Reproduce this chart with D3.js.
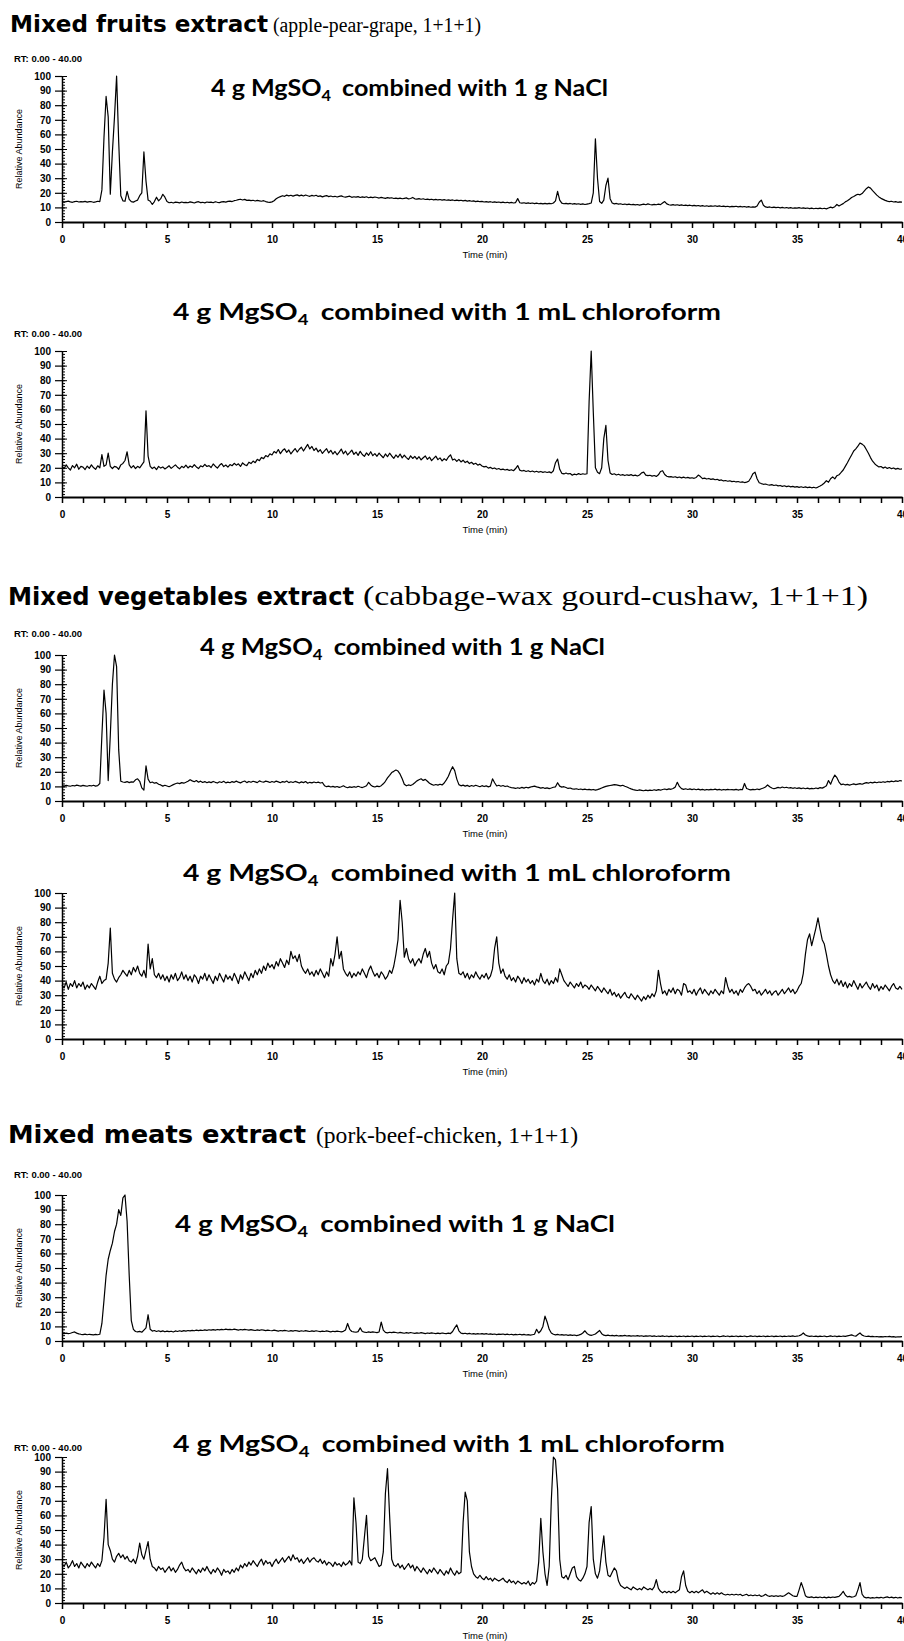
<!DOCTYPE html>
<html>
<head>
<meta charset="utf-8">
<script src="https://d3js.org/d3.v7.min.js"></script>
<style>
  body { margin: 0; background: #fff; }
  svg { display: block; }
</style>
</head>
<body>
<svg id="chart"></svg>
<script>
// readings are one every 0.1 min, from 0 to 40 min
var timeStep = 0.1;
var xTickLabels = [0, 5, 10, 15, 20, 25, 30, 35, 40];
var yTickLabels = [0, 10, 20, 30, 40, 50, 60, 70, 80, 90, 100];

var fruitsNaCl = [
  14.1,13.6,14.0,14.3,13.8,13.5,14.0,14.2,13.7,13.9,
  13.8,14.1,13.6,14.0,13.9,13.5,13.8,14.2,14.0,22,
  58,86,72,19,48,72,100,55,18,14.5,
  14.2,21,15.5,14.0,13.6,14.4,15.0,18,20,48,
  28,15,14.2,12.0,14.0,17,14.5,16,19,17,
  14.0,13.2,13.5,13.0,13.6,13.4,13.1,13.7,13.3,13.5,
  13.2,13.8,13.4,13.0,13.6,13.9,13.3,13.5,13.1,13.7,
  13.4,13.6,13.2,13.9,13.5,13.3,13.8,14.0,13.6,14.1,
  14.3,14.0,14.6,14.9,15.3,15.6,15.1,15.5,14.8,15.0,
  14.6,14.9,14.4,14.8,14.5,14.2,14.6,14.0,13.6,13.4,
  13.8,14.6,15.9,16.8,17.4,18.0,17.6,18.4,17.9,18.3,
  17.7,18.2,18.6,17.9,18.4,17.8,18.5,18.0,17.6,18.2,
  17.8,18.3,17.5,17.9,17.2,17.7,18.1,17.4,17.8,17.3,
  17.6,17.1,17.5,17.9,17.3,17.0,17.4,17.7,16.9,17.3,
  17.0,17.4,16.8,17.2,16.9,17.3,16.6,17.0,16.7,17.1,
  16.8,16.4,16.9,16.5,16.2,16.7,16.3,16.6,16.1,16.4,
  16.0,16.3,15.9,16.2,16.5,15.8,16.1,16.8,15.9,15.7,
  16.0,15.6,15.9,15.4,15.7,15.3,15.6,15.2,15.5,15.1,
  15.4,15.0,15.3,14.9,15.2,14.8,15.1,14.7,15.0,14.6,
  14.9,14.5,14.8,14.3,14.6,14.2,14.5,14.0,14.3,13.9,
  14.1,13.7,14.0,13.6,13.9,13.5,13.8,13.4,13.7,13.3,
  13.6,13.2,13.5,13.1,13.4,13.0,13.3,16.0,13.2,12.9,
  13.2,12.8,13.1,12.7,13.0,12.6,12.9,12.5,12.8,12.4,
  12.7,12.4,12.8,12.5,13.0,14.5,21,15,12.9,12.5,
  12.8,12.4,12.7,12.3,12.6,12.2,12.5,12.1,12.4,12.0,
  12.3,12.6,13.0,20,57,30,14,12.8,15,25,
  30,16,13,12.4,12.7,12.2,12.5,12.0,12.3,11.9,
  12.2,11.8,12.1,11.7,12.0,11.6,11.9,12.2,11.8,12.4,
  12.0,11.7,12.1,11.8,12.2,11.9,13.0,14,12.4,11.8,
  11.6,11.9,11.5,11.8,11.4,11.7,11.3,11.6,11.2,11.5,
  11.1,11.4,11.0,11.3,10.9,11.2,10.8,11.1,10.7,11.0,
  10.8,11.1,10.7,11.0,10.6,10.9,10.5,10.8,10.4,10.7,
  10.5,10.8,10.4,10.7,10.3,10.6,10.2,10.5,10.1,10.4,
  10.2,11.0,13.5,15,11.5,10.3,10.0,10.3,9.9,10.2,
  9.8,10.1,9.7,10.0,9.6,9.9,9.5,9.8,9.4,9.7,
  9.5,9.8,9.4,9.7,9.3,9.6,9.2,9.5,9.1,9.4,
  9.2,9.5,9.1,9.4,9.0,9.6,10.2,9.7,10.5,12,
  11.0,11.8,12.6,13.8,14.5,15.6,16.8,17.5,18.4,19.0,
  18.6,19.5,21.2,22.8,24.0,23.2,21.5,20.0,18.4,17.2,
  16.2,15.5,14.8,14.3,13.9,14.2,13.7,14.0,13.5,13.8,
  13.6
];

var fruitsChloroform = [
  21,19.5,22,20,18.5,21.5,20,22.5,19,21,
  20.5,18.8,21.2,19.6,22,20.2,18.9,21.4,20,29,
  21,22,30,21,19.5,21,20.5,19,22,23,
  25,31,22,20,21.5,19.5,21,20,22,24,
  59,28,21,19.5,20.5,18.8,21,19.8,20.6,19.2,
  20.2,21.4,19.6,20.8,22,20.4,19.3,21,20.1,21.8,
  19.9,21.2,20.3,22.1,20.6,19.5,21.3,20.7,22.4,20.9,
  21.5,20.2,22.6,21.1,19.8,21.7,22.9,20.8,21.9,20.5,
  22.2,21.4,23.1,21.8,22.7,20.9,23.4,22.1,21.5,23.8,
  22.9,24.6,23.5,25.8,24.9,27.1,26.3,28.4,27.5,29.6,
  28.8,31.2,30.1,32.5,29.7,31.8,33.0,30.6,32.2,29.5,
  31.4,33.2,30.8,32.7,34.1,31.5,33.8,36.0,32.9,34.6,
  31.8,33.5,30.9,32.4,29.8,31.6,33.1,30.2,32.0,29.4,
  31.2,28.9,30.7,32.8,29.6,31.5,28.8,30.4,32.1,29.2,
  30.8,28.5,31.3,29.1,27.8,30.2,28.6,31.0,28.3,29.7,
  27.9,30.1,28.4,26.9,29.5,27.6,30.0,28.1,26.5,28.8,
  27.2,29.4,26.8,28.6,27.0,25.7,28.2,26.4,27.8,25.9,
  27.6,25.4,26.9,28.1,25.8,27.3,24.9,26.5,28.0,25.6,
  26.8,24.7,26.2,25.1,27.4,28.9,25.3,26.0,24.4,25.8,
  24.0,25.2,23.6,24.5,22.9,23.8,22.4,23.1,21.8,22.5,
  21.2,20.6,21.0,19.8,20.3,19.4,19.9,19.0,19.5,18.7,
  19.1,18.5,18.9,18.2,18.7,18.0,19.5,21.5,18.4,17.8,
  18.2,17.5,18.0,17.3,17.8,17.1,17.6,17.0,17.5,16.9,
  17.3,16.8,17.2,16.5,18.0,23.5,26,19,16.2,15.8,
  16.4,15.8,16.1,14.9,15.7,15.2,16.0,15.4,15.9,15.6,
  15.9,65,100,58,20,17,16,20,40,49,
  25,16.5,15.4,15.9,15.1,15.6,14.9,15.3,14.7,15.2,
  14.8,15.3,14.6,15.0,14.4,15.1,16.5,17,15.0,14.6,
  14.9,14.3,14.7,14.1,15.2,17.5,18,15.4,14.2,13.8,
  14.0,13.5,13.9,13.3,13.7,13.1,13.6,13.0,13.4,12.9,
  13.2,12.8,13.4,15,14,12.6,12.9,12.3,12.7,12.1,
  12.4,11.8,12.1,11.4,11.7,11.0,11.3,10.8,11.1,10.5,
  10.8,10.3,10.6,10.1,10.4,9.9,10.2,10.8,13,16,
  17,12.5,9.8,9.2,8.7,8.9,8.4,8.1,8.5,7.9,
  8.2,7.6,7.9,7.3,7.7,7.1,7.5,6.9,7.3,6.8,
  7.1,6.6,7.0,6.5,6.9,6.4,6.8,6.3,6.7,6.2,
  6.8,7.5,8.4,9.6,11.2,10.1,12.5,13.8,12.4,14.6,
  15.2,16.8,18.5,21.0,23.5,26.2,28.8,31.5,33.0,34.8,
  37.0,36.2,35.0,32.5,30.0,27.0,24.5,22.8,21.5,20.6,
  20.9,19.8,20.5,19.6,20.2,19.4,19.9,19.1,19.6,19.0,
  19.3
];

var vegNaCl = [
  10.5,10.2,10.8,10.4,10.1,10.6,10.3,10.9,10.5,10.2,
  10.7,10.4,10.1,10.6,10.3,10.8,10.2,10.5,12,45,
  76,60,14,45,80,100,92,35,13.5,13,
  12.8,13.3,12.6,13.1,12.9,14.5,15.2,13.5,9,7.5,
  24,15,12.5,13,12.2,12.6,11.5,11,10.2,10.8,
  10.3,9.8,10.5,11.2,11.8,12.3,11.9,12.6,12.2,12.8,
  13.5,14.6,13.8,13.2,14.0,12.9,13.6,12.7,13.3,12.5,
  13.1,12.6,13.4,12.8,12.3,13.2,12.7,13.5,12.4,12.9,
  12.5,13.3,12.8,13.6,12.9,12.4,13.2,13.7,12.6,13.4,
  12.8,13.5,13.1,12.6,13.8,13.2,12.9,13.6,13.3,12.7,
  13.4,12.8,13.6,13.1,12.5,13.3,12.9,13.7,12.6,13.2,
  12.7,13.4,12.9,12.3,13.1,12.6,13.3,12.2,12.8,12.4,
  13.0,12.5,12.9,12.3,12.7,10.5,9.8,10.2,9.6,10.0,
  9.5,9.9,9.3,9.8,10.4,9.6,9.1,9.7,9.3,9.8,
  9.4,10.1,9.6,9.2,9.8,10.4,12.8,11.0,10.0,9.6,
  10.2,9.8,10.5,11.8,13.5,15.8,17.6,19.5,20.3,21.2,
  20.5,18.4,15.2,11.5,10.4,11.0,10.6,11.3,12.5,13.8,
  14.6,15.2,14.1,14.8,13.5,12.2,11.4,10.8,11.3,10.9,
  11.5,11.0,12.3,14.5,17.0,20.5,23.5,20.8,15.0,11.2,
  10.4,10.9,10.2,10.7,9.9,10.6,10.1,10.8,10.3,9.8,
  10.5,9.9,10.4,9.7,10.2,15.2,12.5,10.3,10.8,10.1,
  10.6,9.9,10.3,9.6,9.2,9.0,8.6,9.1,8.7,9.3,
  8.8,9.4,9.0,9.5,9.9,10.2,9.7,9.3,8.8,9.2,
  8.6,9.0,8.5,8.9,9.4,9.7,12.5,10.2,9.5,9.8,
  9.2,8.6,8.9,8.3,8.1,8.4,7.9,8.2,7.8,8.1,
  7.7,8.0,7.6,7.9,7.5,7.8,8.3,8.9,9.5,10.0,
  10.3,10.6,10.9,11.2,11.0,10.7,10.4,10.8,10.1,9.6,
  8.9,8.3,7.8,7.5,7.2,7.6,7.3,7.0,7.4,7.1,
  7.5,7.2,7.7,7.3,7.8,7.4,7.9,8.2,7.8,8.3,
  8.0,8.6,9.5,12.8,10.0,8.5,8.0,8.4,7.9,8.3,
  7.8,8.2,7.7,8.1,7.6,8.0,7.5,7.9,7.6,8.0,
  7.7,8.1,7.6,8.0,7.5,7.9,7.6,8.0,7.7,7.8,
  7.6,8.0,7.5,7.9,7.7,12.0,8.6,8.0,7.6,8.0,
  7.7,8.2,7.8,8.4,8.9,9.6,11.0,9.8,8.9,8.4,
  8.8,9.3,8.9,9.6,9.1,9.4,8.9,9.2,8.7,9.1,
  8.6,9.0,8.5,8.9,8.4,8.8,8.3,8.7,8.4,8.9,
  8.5,9.2,8.8,9.5,10.5,14.0,11.5,15.0,17.8,16.0,
  13.0,11.2,11.6,11.0,11.4,10.9,11.3,11.7,11.2,11.6,
  11.9,11.5,12.1,12.6,12.2,12.8,12.4,12.9,12.5,13.0,
  12.7,13.2,12.8,13.4,13.1,13.6,13.2,13.8,13.4,14.0,
  13.7
];

var vegChloroform = [
  37,35,39,34,38,36,40,35,38,36,
  39,34,37,35,38,36,34,39,43,38,
  40,41,52,76,45,41,39,42,44,47,
  45,43,47,44,49,46,50,45,43,47,
  42,65,48,55,44,42,45,41,44,40,
  43,39,44,41,45,40,42,46,41,44,
  40,43,39,44,42,38,43,41,45,40,
  44,41,38,43,40,45,42,39,44,41,
  43,40,45,42,38,44,41,46,43,40,
  45,42,47,44,48,45,50,47,52,49,
  51,48,53,50,55,52,49,54,51,60,
  55,57,53,58,50,47,45,48,44,46,
  43,47,44,48,45,42,46,43,55,50,
  58,70,55,60,48,45,43,46,42,45,
  43,46,44,48,45,42,47,50,46,43,
  45,42,46,44,41,43,47,45,50,58,
  68,95,80,56,62,55,52,55,50,53,
  55,52,58,62,56,60,52,48,51,46,
  45,48,44,50,52,62,82,100,55,45,
  44,46,42,45,41,44,42,46,43,41,
  44,42,45,41,43,48,62,70,52,45,
  48,43,41,44,40,42,39,43,41,38,
  42,39,41,38,40,37,41,39,45,40,
  38,41,37,40,38,42,39,48,44,40,
  38,36,39,37,35,38,36,39,35,37,
  36,34,37,35,33,36,34,32,35,33,
  31,34,30,32,29,31,28,30,32,29,
  28,31,29,27,30,28,26,29,27,30,
  28,31,29,33,47,38,31,33,30,34,
  32,35,31,34,33,30,38,37,32,33,
  31,34,30,33,35,31,34,32,30,33,
  31,34,32,30,33,31,42,36,32,34,
  31,33,30,34,32,35,37,38,36,33,
  34,31,33,30,32,34,31,33,30,32,
  33,30,32,34,31,33,35,32,34,31,
  33,36,38,45,58,68,72,64,70,76,
  83,75,68,65,58,50,44,40,38,41,
  37,40,36,39,35,38,36,40,37,34,
  38,35,37,39,36,34,38,35,37,33,
  36,34,37,35,33,36,38,35,34,36,
  34
];

var meatNaCl = [
  5.2,5.0,5.4,5.1,5.3,5.8,6.2,5.4,4.9,4.6,
  4.4,4.7,4.3,4.6,4.4,4.2,4.5,4.3,4.6,12,
  28,45,56,62,67,75,80,90,86,98,
  100,82,45,14,8,6.5,6.2,6.6,6.0,7.5,
  9,18,8,6.8,7.2,6.5,7.0,6.4,6.9,6.3,
  6.8,6.4,6.7,6.2,6.9,6.5,7.0,6.6,7.1,6.8,
  7.2,6.9,7.3,7.0,7.4,7.1,7.5,7.2,7.6,7.3,
  7.7,7.4,7.8,7.5,7.9,7.6,8.0,7.7,8.1,7.8,
  8.0,7.7,8.1,7.8,7.5,7.9,7.6,8.0,7.7,7.4,
  7.8,7.5,7.2,7.6,7.3,7.7,7.4,7.1,7.5,7.2,
  7.0,7.4,7.1,6.8,7.2,6.9,7.3,7.0,6.7,7.1,
  6.8,7.2,6.9,6.6,7.0,6.7,7.1,6.8,6.5,6.9,
  6.6,7.0,6.7,6.4,6.8,6.5,6.9,6.6,6.3,6.7,
  6.4,6.8,6.5,6.2,6.6,7.5,12,8,6.5,6.2,
  6.0,6.4,9,6.5,6.1,5.8,6.2,5.9,6.3,6.0,
  5.7,6.2,13,7.5,5.9,5.6,6.0,5.7,6.1,5.8,
  5.5,5.9,5.6,5.3,5.7,5.4,5.8,5.5,5.2,5.6,
  5.3,5.7,5.4,5.1,5.5,5.2,5.6,5.3,5.0,5.4,
  5.1,5.5,5.2,5.0,5.4,5.1,6.5,9,11,7,
  5.4,5.0,5.3,4.9,5.2,4.8,5.1,4.7,5.0,4.8,
  5.1,4.7,5.0,4.6,4.9,4.5,4.8,4.4,4.7,4.5,
  4.8,4.4,4.7,4.3,4.6,4.2,4.5,4.3,4.6,4.2,
  4.5,4.1,4.4,4.0,4.3,4.6,8,5.5,7,10,
  17,13,8,5.5,4.6,4.2,4.5,4.1,4.4,4.0,
  4.3,3.9,4.2,3.8,4.1,3.7,4.0,4.5,5.5,7,
  5.2,4.2,3.9,4.3,4.8,6,7.2,5,4.0,3.7,
  4.0,3.6,3.9,3.5,3.8,3.4,3.7,3.5,3.8,3.4,
  3.7,3.3,3.6,3.4,3.7,3.3,3.6,3.2,3.5,3.3,
  3.6,3.2,3.5,3.1,3.4,3.2,3.5,3.1,3.4,3.0,
  3.3,3.1,3.4,3.0,3.3,3.1,3.4,3.0,3.3,3.1,
  3.4,3.0,3.3,3.1,3.4,3.0,3.3,3.1,3.4,3.0,
  3.3,3.1,3.4,3.0,3.2,3.5,3.1,3.4,3.0,3.3,
  3.1,3.4,3.0,3.3,3.1,3.4,3.0,3.2,3.5,3.1,
  3.4,3.0,3.3,3.1,3.4,3.0,3.3,3.1,3.4,3.0,
  3.3,3.1,3.4,3.0,3.3,3.1,3.4,3.2,3.5,3.1,
  3.4,3.6,4.2,5.5,4.1,3.5,3.2,3.4,3.1,3.3,
  3.0,3.3,3.1,3.4,3.0,3.2,3.5,3.1,3.4,3.0,
  3.3,3.1,3.4,3.2,3.5,3.8,4.2,3.6,3.3,4.5,
  5.5,4.0,3.4,3.1,3.3,3.0,3.2,2.9,3.1,2.8,
  3.0,2.8,3.1,2.9,3.2,2.8,3.0,2.7,2.9,2.8,
  3.0
];

var meatChloroform = [
  27,25,28,24,26,29,25,27,24,28,
  26,24,27,25,28,26,24,27,25,29,
  45,71,40,36,30,28,32,34,31,33,
  30,32,29,28,30,27,32,41,33,30,
  36,42,30,25,24,22,25,23,24,21,
  23,25,22,24,21,23,26,28,24,22,
  23,21,24,22,20,23,21,24,22,25,
  22,20,23,21,24,22,19,23,21,22,
  20,23,21,24,22,26,24,27,25,28,
  26,29,27,25,28,30,26,29,27,28,
  25,28,30,27,29,31,28,30,32,29,
  33,30,31,28,30,27,29,31,28,30,
  31,29,28,30,27,29,26,28,27,25,
  28,26,27,25,28,26,27,29,26,72,
  55,28,27,30,45,60,32,29,30,31,
  28,25,26,35,75,92,60,30,26,25,
  27,24,26,23,25,27,24,26,22,25,
  23,21,24,22,20,23,21,24,22,20,
  23,21,19,22,20,24,21,19,22,20,
  21,55,76,70,35,25,20,18,17,19,
  17,16,18,16,17,15,17,16,15,16,
  17,15,14,16,14,15,13,15,14,13,
  14,13,15,12,14,13,15,28,58,35,
  20,12,25,70,100,98,78,30,18,17,
  19,16,20,24,25,18,16,15,17,20,
  25,55,66,30,20,17,22,35,46,28,
  19,18,21,24,22,15,12,11,10,11,
  10,9,11,10,9,10,9,11,10,9,
  10,9,11,16,10,8,7,8,7,8,
  7,8,7,8,9,18,22,12,8,7,
  8,7,8,7,8,9,7,8,7,6,
  7,6,7,6,7,6,5.5,6,5.5,6,
  5.5,6,5.5,6,5,5.5,6,5,5.5,5,
  5.5,5,5.5,4.5,5,6,5,4.5,5,4.5,
  5,4.5,5,4.5,5,6,7,6,5,4.5,
  4.5,9,14,10,5,4,3.8,4.2,3.6,4,
  3.7,4.1,3.6,4,3.5,4,3.7,4.1,3.8,4.2,
  4.5,6,8,5.5,4.2,4.5,4,4.3,5,9,
  14,6,4,3.5,3.8,3.3,3.7,3.4,3.8,3.5,
  3.9,3.4,3.8,4.2,3.6,4,3.5,3.9,3.4,3.8,
  3.6
];

var titles = [
  { bold: "Mixed fruits extract", rest: "(apple-pear-grape, 1+1+1)" },
  { bold: "Mixed vegetables extract", rest: "(cabbage-wax gourd-cushaw, 1+1+1)" },
  { bold: "Mixed meats extract", rest: "(pork-beef-chicken, 1+1+1)" }
];

// where each title sits: baseline, and the span of its two parts
var titleLayout = [
  { y: 32, boldX: 10, boldW: 258, boldSize: 23, restX: 273, restW: 208, restSize: 20.5 },
  { y: 605, boldX: 8, boldW: 346, boldSize: 24, restX: 363, restW: 505, restSize: 27 },
  { y: 1143, boldX: 8, boldW: 298, boldSize: 24, restX: 316, restW: 262, restSize: 23 }
];

// layout of each chromatogram: base = y of the 0 line, rt = y of the "RT" label
var panels = [
  { series: fruitsNaCl, base: 222, rt: 58, tail: "1 g NaCl", subX: 211, subY: 96, subW: 397 },
  { series: fruitsChloroform, base: 497, rt: 333, tail: "1 mL chloroform", subX: 173, subY: 320, subW: 548 },
  { series: vegNaCl, base: 801, rt: 633, tail: "1 g NaCl", subX: 200, subY: 655, subW: 405 },
  { series: vegChloroform, base: 1039, rt: null, tail: "1 mL chloroform", subX: 183, subY: 881, subW: 548 },
  { series: meatNaCl, base: 1341, rt: 1174, tail: "1 g NaCl", subX: 175, subY: 1232, subW: 440 },
  { series: meatChloroform, base: 1603, rt: 1447, tail: "1 mL chloroform", subX: 173, subY: 1452, subW: 552 }
];

var width = 904, height = 1641;
var plotH = 146;
var axisFont = "'Liberation Sans Narrow', 'Liberation Sans', Arial, sans-serif";

var svg = d3.select("#chart")
    .attr("width", width)
    .attr("height", height);

svg.append("rect")
    .attr("width", width)
    .attr("height", height)
    .attr("fill", "#fff");

var x = d3.scaleLinear()
    .domain([0, 40])
    .range([62, 902]);

// Titles: bold sans part followed by serif part
titles.forEach(function(t, i) {
    var L = titleLayout[i];
    svg.append("text")
        .attr("x", L.boldX)
        .attr("y", L.y)
        .attr("font-family", "'DejaVu Sans', sans-serif")
        .attr("font-weight", "bold")
        .attr("font-size", L.boldSize)
        .attr("textLength", L.boldW)
        .attr("lengthAdjust", "spacingAndGlyphs")
        .attr("fill", "#000")
        .text(t.bold);
    svg.append("text")
        .attr("x", L.restX)
        .attr("y", L.y)
        .attr("font-family", "'Liberation Serif', 'Times New Roman', serif")
        .attr("font-size", L.restSize)
        .attr("textLength", L.restW)
        .attr("lengthAdjust", "spacingAndGlyphs")
        .attr("fill", "#000")
        .text(t.rest);
});

panels.forEach(function(p) {
    var y = d3.scaleLinear()
        .domain([0, 100])
        .range([p.base, p.base - plotH]);

    var g = svg.append("g").attr("class", "panel");

    // subtitle with subscript 4
    var sub = g.append("text")
        .attr("x", p.subX)
        .attr("y", p.subY)
        .attr("font-family", "Lato, 'Open Sans', sans-serif")
        .attr("font-weight", "bold")
        .attr("font-size", 23)
        .attr("fill", "#000")
        .attr("textLength", p.subW)
        .attr("lengthAdjust", "spacingAndGlyphs");
    sub.append("tspan").text("4 g MgSO");
    sub.append("tspan").attr("font-size", 15).attr("dy", 5).text("4");
    sub.append("tspan").attr("dy", -5).attr("dx", 10).text("combined with " + p.tail);

    if (p.rt !== null) {
        g.append("text")
            .attr("x", 14)
            .attr("y", p.rt + 3.5)
            .attr("font-family", axisFont)
            .attr("font-size", 9.5)
            .attr("font-weight", "bold")
            .attr("fill", "#000")
            .text("RT: 0.00 - 40.00");
    }

    // x axis: ticks every minute, labels every 5
    var gx = g.append("g")
        .attr("transform", "translate(0," + p.base + ")")
        .call(d3.axisBottom(x)
            .tickValues(d3.range(0, 41, 1))
            .tickSize(6)
            .tickPadding(8)
            .tickSizeOuter(0)
            .tickFormat(function(d) { return xTickLabels.indexOf(d) >= 0 ? d : ""; }));
    gx.select(".domain").attr("stroke-width", 2);
    gx.selectAll(".tick line").attr("stroke-width", 1.5);
    gx.selectAll("text")
        .attr("font-family", axisFont)
        .attr("font-size", 10)
        .attr("font-weight", "bold");

    g.append("text")
        .attr("x", x(20) + 3)
        .attr("y", p.base + 36)
        .attr("text-anchor", "middle")
        .attr("font-family", axisFont)
        .attr("font-size", 9.5)
        .attr("fill", "#000")
        .text("Time (min)");

    // y axis with major labels outside and a dense ruler inside
    var gy = g.append("g")
        .attr("transform", "translate(" + x(0) + ",0)")
        .call(d3.axisLeft(y)
            .tickValues(yTickLabels)
            .tickSize(7)
            .tickPadding(4)
            .tickSizeOuter(0));
    gy.select(".domain").attr("stroke-width", 1.5);
    gy.selectAll(".tick line").attr("stroke-width", 1.2);
    gy.selectAll("text")
        .attr("font-family", axisFont)
        .attr("font-size", 10)
        .attr("font-weight", "bold");

    var gMinor = g.append("g")
        .attr("transform", "translate(" + x(0) + ",0)")
        .call(d3.axisRight(y)
            .tickValues(d3.range(0, 101, 2))
            .tickSize(3)
            .tickFormat(""));
    gMinor.select(".domain").remove();

    var gMid = g.append("g")
        .attr("transform", "translate(" + x(0) + ",0)")
        .call(d3.axisRight(y)
            .tickValues(yTickLabels)
            .tickSize(5)
            .tickFormat(""));
    gMid.select(".domain").remove();

    g.append("text")
        .attr("transform", "translate(22," + (p.base - plotH / 2) + ") rotate(-90)")
        .attr("text-anchor", "middle")
        .attr("font-family", axisFont)
        .attr("font-size", 9)
        .attr("fill", "#000")
        .text("Relative Abundance");

    // the chromatogram trace
    var lineFn = d3.line()
        .x(function(d, i) { return x(i * timeStep); })
        .y(function(d) { return y(d); });

    g.append("path")
        .datum(p.series)
        .attr("d", lineFn)
        .attr("fill", "none")
        .attr("stroke", "#000")
        .attr("stroke-width", 1.2)
        .attr("stroke-linejoin", "round");
});
</script>
</body>
</html>
